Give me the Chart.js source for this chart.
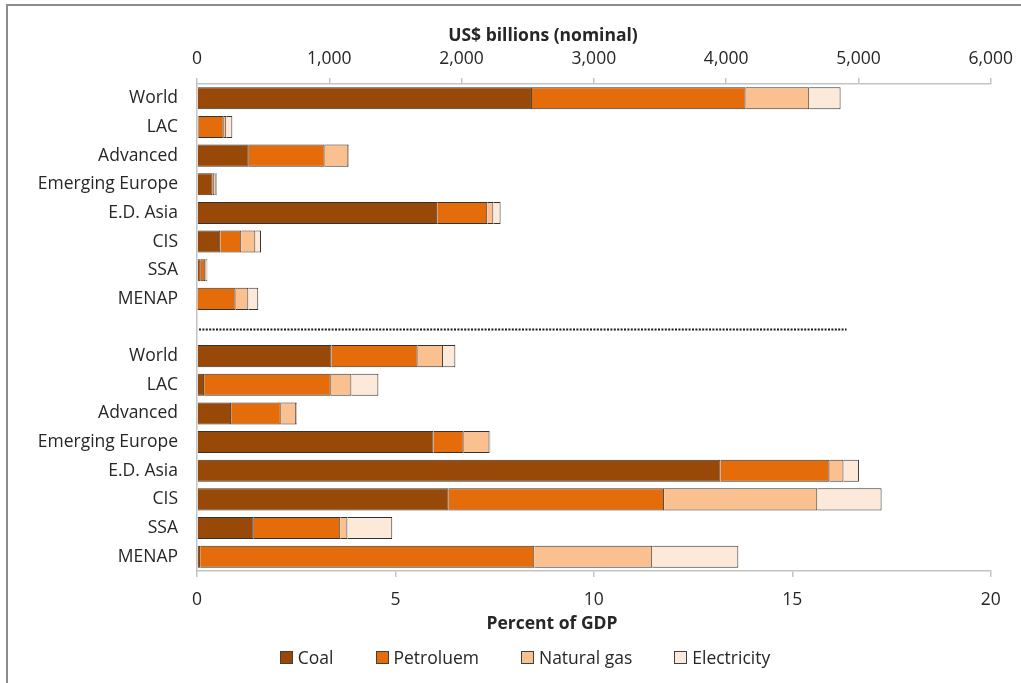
<!DOCTYPE html>
<html>
<head>
<meta charset="utf-8">
<script src="https://cdn.jsdelivr.net/npm/chart.js@4.4.1/dist/chart.umd.min.js"></script>
<style>
  html, body { margin: 0; padding: 0; background: #fff; }
  #wrap { position: relative; width: 1021px; height: 683px; overflow: hidden; font-family: "Open Sans", sans-serif; color: #262626; }
  #frame { position: absolute; left: 6px; top: 4px; width: 1100px; height: 800px; border: 2px solid #8c8c8c; box-sizing: border-box; }
  #chart { position: absolute; left: 0; top: 0; }
  #legend { position: absolute; left: 29px; width: 992px; top: 646px; display: flex; justify-content: center; font-size: 17.5px; line-height: 22px; }
  .item { display: flex; align-items: center; margin: 0 21px; }
  .swatch { width: 11px; height: 11px; border: 1px solid #404040; margin-right: 5px; }
</style>
</head>
<body>
<div id="wrap">
  <div id="frame"></div>
  <canvas id="chart" width="1021" height="683"></canvas>
  <div id="legend"></div>
</div>
<script>
(function () {
  'use strict';

  // Regions (same order in both panels)
  const regions = ['World', 'LAC', 'Advanced', 'Emerging Europe', 'E.D. Asia', 'CIS', 'SSA', 'MENAP'];
  const fuels = ['Coal', 'Petroleum', 'Natural gas', 'Electricity'];
  const legendNames = ['Coal', 'Petroluem', 'Natural gas', 'Electricity'];
  const colors = ['#984807', '#E46C0A', '#FAC090', '#FDE9D9'];

  // Top panel: US$ billions (nominal)
  const usdCoal        = [2532, 13, 391, 118, 1816, 176, 28, 4];
  const usdPetroleum   = [1615, 189, 574, 13, 378, 159, 35, 288];
  const usdGas         = [481, 19, 179, 10, 46, 106, 5, 96];
  const usdElectricity = [237, 46, 5, 8, 55, 43, 10, 75];

  // Bottom panel: percent of GDP
  const gdpCoal        = [3.39, 0.18, 0.86, 5.96, 13.19, 6.34, 1.43, 0.08];
  const gdpPetroleum   = [2.17, 3.19, 1.25, 0.76, 2.75, 5.43, 2.18, 8.42];
  const gdpGas         = [0.64, 0.52, 0.39, 0.65, 0.35, 3.86, 0.18, 2.97];
  const gdpElectricity = [0.31, 0.68, 0.02, 0.02, 0.39, 1.62, 1.13, 2.17];

  // Axis ticks
  const usdTicks = [0, 1000, 2000, 3000, 4000, 5000, 6000];
  const gdpTicks = [0, 5, 10, 15, 20];
  const dividerEnd = 4910; // where the dotted separator stops (US$ bn scale)

  const labels = regions.concat([''], regions);
  const gapIndex = regions.length;
  const blanks = Array(regions.length + 1).fill(null);

  const usdSeries = [usdCoal, usdPetroleum, usdGas, usdElectricity];
  const gdpSeries = [gdpCoal, gdpPetroleum, gdpGas, gdpElectricity];

  const textColor = '#262626';
  const axisColor = '#c4c4c4';
  const font = { family: '"Open Sans", sans-serif', size: 17.5 };

  let datasets = [];
  fuels.forEach(function (name, i) {
    let base = {
      label: name,
      backgroundColor: colors[i],
      borderColor: '#333333',
      borderWidth: { left: 0, right: 1, top: 1, bottom: 1 },
      borderSkipped: false,
      stack: 'all',
      yAxisID: 'y'
    };
    datasets.push(Object.assign({}, base, { xAxisID: 'x2', data: usdSeries[i].concat(blanks) }));
    datasets.push(Object.assign({}, base, { xAxisID: 'x', data: blanks.concat(gdpSeries[i]) }));
  });

  // dotted separator + axis titles
  const extras = {
    id: 'extras',
    afterDraw(chart) {
      const { ctx, chartArea, scales } = chart;
      const y = scales.y.getPixelForValue(gapIndex) + 2;
      ctx.save();
      ctx.strokeStyle = '#1a1a1a';
      ctx.lineWidth = 2;
      ctx.setLineDash([2, 1.4]);
      ctx.beginPath();
      ctx.moveTo(chartArea.left + 2, y);
      ctx.lineTo(scales.x2.getPixelForValue(dividerEnd), y);
      ctx.stroke();
      ctx.setLineDash([]);

      ctx.fillStyle = textColor;
      ctx.font = 'bold 17.5px "Open Sans", sans-serif';
      ctx.textAlign = 'center';
      ctx.textBaseline = 'middle';
      ctx.fillText('US$ billions (nominal)', chartArea.left + 346, 36);
      ctx.fillText('Percent of GDP', chartArea.left + 355, 624);
      ctx.restore();
    }
  };

  function axisX(position, ticks, pad) {
    return {
      type: 'linear',
      axis: 'x',
      position: position,
      stacked: true,
      min: ticks[0],
      max: ticks[ticks.length - 1],
      afterBuildTicks: function (scale) { scale.ticks = ticks.map(function (v) { return { value: v }; }); },
      afterFit: function (scale) { scale.height = 40; },
      grid: { display: true, drawOnChartArea: false, drawTicks: true, tickLength: 6, color: axisColor, lineWidth: 1.5 },
      border: { display: true, color: axisColor, width: 1.5 },
      ticks: {
        color: textColor,
        font: font,
        padding: pad,
        maxRotation: 0,
        callback: function (v) { return v.toLocaleString('en-US'); }
      }
    };
  }

  new Chart(document.getElementById('chart'), {
    type: 'bar',
    data: { labels: labels, datasets: datasets },
    options: {
      indexAxis: 'y',
      responsive: false,
      animation: false,
      events: [],
      categoryPercentage: 1,
      barPercentage: 0.77,
      layout: { padding: { left: 37, right: 30, top: 44, bottom: 72 } },
      plugins: { legend: { display: false }, tooltip: { enabled: false } },
      scales: {
        y: {
          stacked: true,
          afterFit: function (scale) { scale.width = 160; },
          grid: { display: false, drawTicks: false },
          border: { display: true, color: axisColor, width: 1.5 },
          ticks: { color: textColor, font: font, padding: 19, autoSkip: false }
        },
        x: axisX('bottom', gdpTicks, 13),
        x2: axisX('top', usdTicks, 8)
      }
    },
    plugins: [extras]
  });

  // legend
  let legend = document.getElementById('legend');
  legendNames.forEach(function (name, i) {
    let item = document.createElement('div');
    item.className = 'item';
    let sw = document.createElement('span');
    sw.className = 'swatch';
    sw.style.background = colors[i];
    let tx = document.createElement('span');
    tx.textContent = name;
    item.appendChild(sw);
    item.appendChild(tx);
    legend.appendChild(item);
  });
})();
</script>
</body>
</html>
